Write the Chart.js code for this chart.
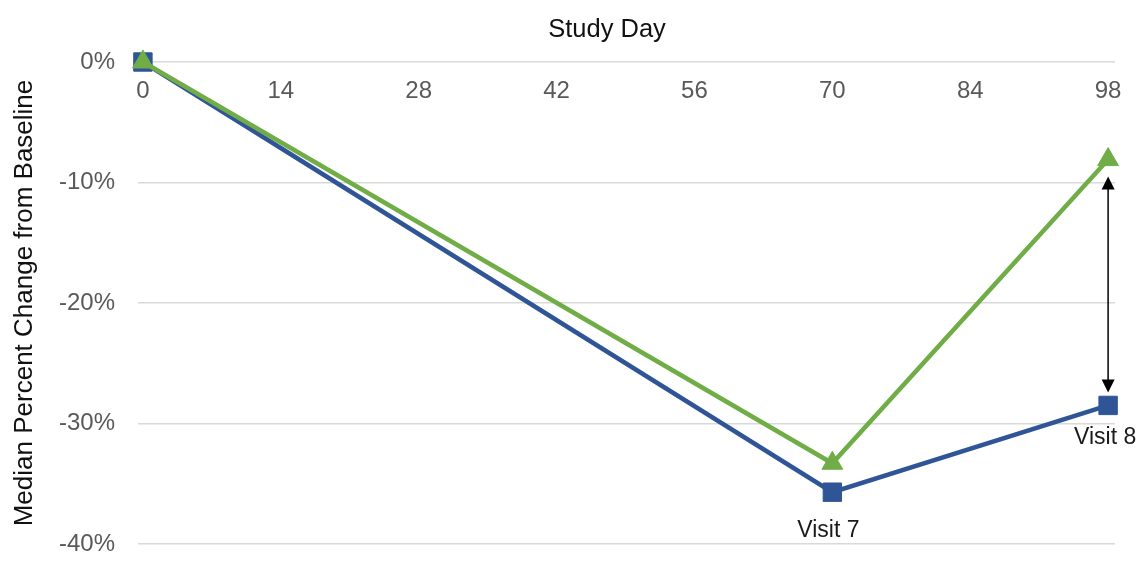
<!DOCTYPE html>
<html>
<head>
<meta charset="utf-8">
<title>Median Percent Change from Baseline</title>
<script src="https://cdn.jsdelivr.net/npm/chart.js@4"></script>
<style>
  html, body { margin: 0; padding: 0; background: #ffffff; overflow: hidden; }
  canvas { display: block; }
</style>
</head>
<body>
<canvas id="chart" width="1144" height="563"></canvas>
<script>
// Study days at which each visit was measured
const studyDays = [0, 70, 98];
// Median percent change from baseline per cohort
const cohortBlue = [0, -35.7, -28.5];
const cohortGreen = [0, -33.3, -8.1];
// Visit names written under the blue markers
const visitLabels = ['', 'Visit 7', 'Visit 8'];
// Axis tick values
const xTickValues = [0, 14, 28, 42, 56, 70, 84, 98];
const yTickValues = [0, -10, -20, -30, -40];

const FONT = '"Liberation Sans", Arial, Helvetica, sans-serif';
const BLUE = '#2f5597';
const GREEN = '#70ad47';

const toPoints = ys => studyDays.map((d, i) => ({ x: d, y: ys[i] }));

// Double-headed arrow between the two cohorts on the last study day
const gapArrow = {
  id: 'gapArrow',
  afterDatasetsDraw(chart) {
    const xs = chart.scales.x, ys = chart.scales.y;
    const last = studyDays.length - 1;
    const x = xs.getPixelForValue(studyDays[last]);
    const yTop = ys.getPixelForValue(cohortGreen[last]) + 17;
    const yBot = ys.getPixelForValue(cohortBlue[last]) - 13;
    const head = 13, half = 6.5;
    const ctx = chart.ctx;
    ctx.save();
    ctx.strokeStyle = '#000';
    ctx.fillStyle = '#000';
    ctx.lineWidth = 1.5;
    ctx.beginPath();
    ctx.moveTo(x, yTop + head - 1);
    ctx.lineTo(x, yBot - head + 1);
    ctx.stroke();
    ctx.beginPath();
    ctx.moveTo(x, yTop);
    ctx.lineTo(x - half, yTop + head);
    ctx.lineTo(x + half, yTop + head);
    ctx.closePath();
    ctx.fill();
    ctx.beginPath();
    ctx.moveTo(x, yBot);
    ctx.lineTo(x - half, yBot - head);
    ctx.lineTo(x + half, yBot - head);
    ctx.closePath();
    ctx.fill();
    ctx.restore();
  }
};

// Visit captions below the blue markers
const visitCaptions = {
  id: 'visitCaptions',
  afterDatasetsDraw(chart, args, opts) {
    const xs = chart.scales.x, ys = chart.scales.y;
    const ctx = chart.ctx;
    ctx.save();
    ctx.font = '23px ' + FONT;
    ctx.fillStyle = '#1a1a1a';
    ctx.textAlign = 'center';
    ctx.textBaseline = 'middle';
    visitLabels.forEach((txt, i) => {
      if (!txt) return;
      const off = opts.offsets[i] || { dx: 0, dy: 0 };
      const px = xs.getPixelForValue(studyDays[i]) + off.dx;
      const py = ys.getPixelForValue(cohortBlue[i]) + off.dy;
      ctx.fillText(txt, px, py);
    });
    ctx.restore();
  }
};

new Chart(document.getElementById('chart'), {
  type: 'line',
  data: {
    datasets: [
      {
        label: 'Cohort B',
        data: toPoints(cohortGreen),
        borderColor: GREEN,
        backgroundColor: GREEN,
        borderWidth: 4.5,
        pointStyle: 'triangle',
        pointRadius: 12,
        pointBorderWidth: 1,
        pointBorderColor: GREEN,
        pointBackgroundColor: GREEN,
        tension: 0,
        clip: false,
        order: 0
      },
      {
        label: 'Cohort A',
        data: toPoints(cohortBlue),
        borderColor: BLUE,
        backgroundColor: BLUE,
        borderWidth: 4.5,
        pointStyle: 'rect',
        pointRadius: 13,
        pointBorderWidth: 1,
        pointBorderColor: BLUE,
        pointBackgroundColor: BLUE,
        tension: 0,
        clip: false,
        order: 1
      }
    ]
  },
  options: {
    responsive: false,
    animation: false,
    devicePixelRatio: 1,
    layout: {
      autoPadding: false,
      // the layout runs past the right edge so the full-width heading centres
      // over the plot; the blank right-hand scale takes that overhang back
      padding: { left: 0, right: -70, top: 0, bottom: 19 }
    },
    plugins: {
      legend: { display: false },
      tooltip: { enabled: false },
      title: {
        display: true,
        text: 'Study Day',
        color: '#111',
        font: { family: FONT, size: 25.5, weight: 'normal' },
        padding: { top: 15, bottom: 16.4 }
      },
      visitCaptions: {
        offsets: [null, { dx: -4, dy: 38 }, { dx: -3, dy: 32 }]
      }
    },
    scales: {
      x: {
        type: 'linear',
        position: { y: 0 },
        min: -0.5,
        max: 98.7,
        afterBuildTicks: s => { s.ticks = xTickValues.map(v => ({ value: v })); },
        // the axis sits on the 0% line inside the plot, so it takes no layout space
        afterFit: s => { s.height = 0; s.paddingLeft = 0; s.paddingRight = 0; },
        grid: { display: false, drawTicks: false },
        border: { display: false },
        ticks: {
          color: '#595959',
          font: { family: FONT, size: 24 },
          padding: 15,
          maxRotation: 0,
          autoSkip: false
        }
      },
      y: {
        type: 'linear',
        position: 'left',
        min: -40,
        max: 0,
        afterBuildTicks: s => { s.ticks = yTickValues.map(v => ({ value: v })); },
        afterFit: s => { s.width = 138; s.paddingTop = 0; s.paddingBottom = 0; },
        grid: { color: '#d9d9d9', lineWidth: 1.5, drawTicks: false },
        border: { display: false },
        ticks: {
          color: '#595959',
          font: { family: FONT, size: 24 },
          padding: 23,
          callback: v => v + '%'
        },
        title: {
          display: true,
          text: 'Median Percent Change from Baseline',
          color: '#111',
          font: { family: FONT, size: 26, weight: 'normal' },
          padding: { top: 9, bottom: 0 }
        }
      },
      yRight: {
        type: 'linear',
        position: 'right',
        min: -40,
        max: 0,
        afterFit: s => { s.width = 99; s.paddingTop = 0; s.paddingBottom = 0; },
        grid: { display: false, drawTicks: false },
        border: { display: false },
        ticks: { display: false }
      }
    }
  },
  plugins: [gapArrow, visitCaptions]
});
</script>
</body>
</html>
